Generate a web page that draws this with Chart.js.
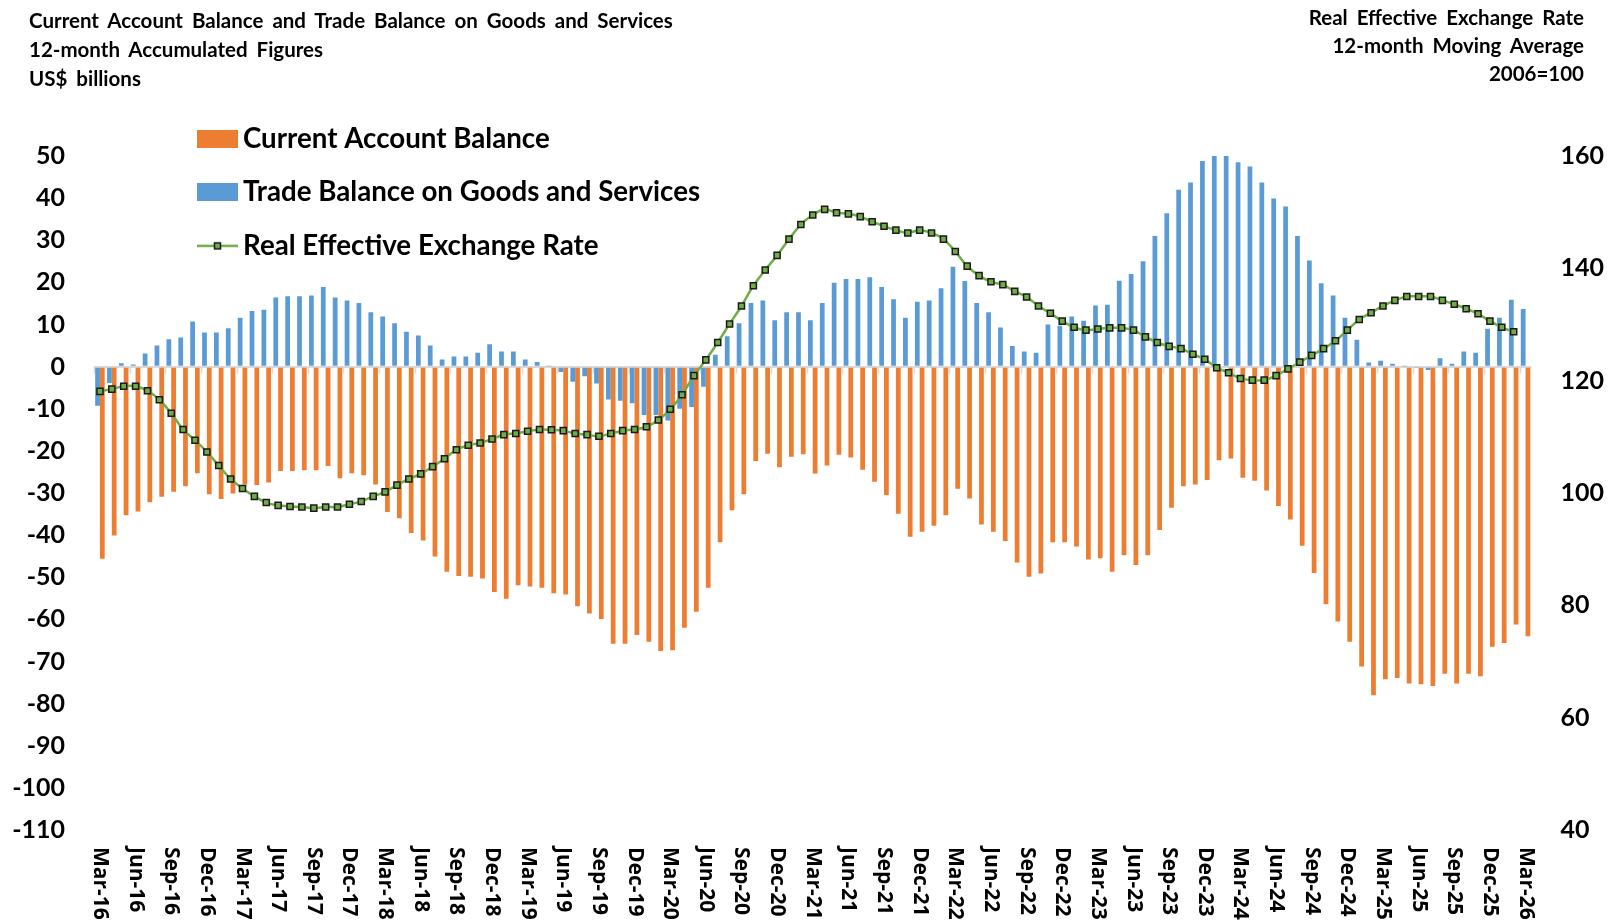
<!DOCTYPE html>
<html><head><meta charset="utf-8">
<script src="https://cdn.jsdelivr.net/npm/chart.js@4.4.1/dist/chart.umd.min.js"></script>
<style>
html,body{margin:0;padding:0;background:#fff;}
#wrap{position:relative;width:1609px;height:924px;overflow:hidden;}
canvas{position:absolute;left:0;top:0;}
.t{position:absolute;font-family:Lato, sans-serif;font-weight:700;color:#000;white-space:nowrap;font-size:20.5px;word-spacing:4px;}
#tl{left:29px;top:6px;line-height:28.75px;}
#tr{right:25px;top:2.5px;line-height:28px;text-align:right;}
</style></head><body>
<div id="wrap"><canvas id="c" width="1609" height="924"></canvas>
<div class="t" id="tl">Current Account Balance and Trade Balance on Goods and Services<br>12-month Accumulated Figures<br>US$ billions</div>
<div class="t" id="tr">Real Effective Exchange Rate<br>12-month Moving Average<br>2006=100</div>
</div>
<script>
// ---- categories (Mar-16 .. Mar-26, monthly) ----
const MONTHS = ['Jan','Feb','Mar','Apr','May','Jun','Jul','Aug','Sep','Oct','Nov','Dec'];
const categories = [];
for (let k = 0; k < 121; k++) {
  const m = (2 + k) % 12, yy = 16 + Math.floor((2 + k) / 12);
  categories.push(MONTHS[m] + '-' + yy);
}

// ---- series (US$ billions, 12-month accumulated) ----
const currentAccount = [
 -45.6,-40.1,-35.3,-34.4,-32.2,-30.9,-29.7,-28.4,-25.3,-30.3,-31.4,-30.1,
 -28.0,-28.1,-27.5,-24.8,-24.8,-24.6,-24.6,-23.6,-26.5,-25.3,-25.8,-28.0,
 -34.5,-36.0,-39.5,-41.3,-45.1,-48.7,-49.7,-49.9,-50.3,-53.5,-55.1,-51.9,
 -52.2,-52.5,-53.8,-54.1,-56.9,-58.6,-59.9,-65.8,-65.8,-63.7,-65.3,-67.5,
 -67.3,-62.0,-58.2,-52.5,-41.7,-34.1,-30.3,-22.4,-20.7,-23.9,-21.4,-20.8,
 -25.4,-23.5,-20.9,-21.6,-24.5,-27.3,-30.5,-34.9,-40.4,-39.2,-37.8,-35.3,
 -29.0,-31.3,-37.5,-39.2,-41.4,-46.5,-49.9,-49.1,-41.7,-41.7,-42.7,-45.8,
 -45.5,-48.7,-44.8,-47.1,-44.8,-38.8,-33.5,-28.4,-28.0,-26.9,-22.2,-21.8,
 -26.4,-27.1,-29.4,-33.1,-36.3,-42.5,-49.0,-56.4,-60.5,-65.3,-71.2,-78.0,
 -74.2,-73.9,-75.2,-75.4,-75.8,-72.9,-75.2,-72.9,-73.5,-66.5,-65.6,-61.2,
 -64.0
];
const tradeBalance = [
 -9.3,-3.9,0.8,0.5,3.1,5.0,6.5,6.9,10.7,8.1,8.1,9.1,
 11.6,13.2,13.5,16.4,16.7,16.7,16.9,18.9,16.4,15.7,15.1,12.9,
 11.9,10.3,8.3,7.4,5.0,1.7,2.4,2.4,3.3,5.3,3.6,3.6,
 1.7,1.1,0.1,-1.3,-3.6,-2.3,-4.0,-7.8,-8.1,-8.7,-11.5,-11.5,
 -12.8,-10.0,-9.6,-4.8,2.8,7.2,10.3,15.1,15.7,11.0,12.9,12.9,
 11.0,15.1,19.9,20.8,20.8,21.2,18.9,16.0,11.6,15.4,15.7,18.6,
 23.7,20.3,15.1,12.9,9.3,4.9,3.6,3.3,10.0,9.7,11.9,10.9,
 14.5,14.7,20.4,22.0,25.0,31.0,36.4,42.0,43.7,48.8,50.3,50.3,
 48.5,47.5,43.7,39.9,38.0,31.0,25.2,19.8,16.9,11.6,6.4,1.0,
 1.4,0.7,0.1,-0.3,-0.8,2.0,0.7,3.6,3.3,9.0,11.6,15.9,
 13.7
];
// ---- Real Effective Exchange Rate (2006=100, 12-month moving average) ----
const reer = [
 118.1,118.5,119.0,119.0,118.2,116.6,114.2,111.3,109.4,107.3,104.9,102.5,
 100.8,99.4,98.3,97.8,97.6,97.5,97.3,97.5,97.5,98.0,98.5,99.4,
 100.2,101.4,102.5,103.4,104.7,106.1,107.7,108.5,108.9,109.6,110.4,110.6,
 111.0,111.3,111.25,111.1,110.6,110.4,110.1,110.6,111.1,111.3,111.8,113.0,
 114.9,117.5,120.9,123.7,126.8,130.1,133.3,136.9,139.7,142.3,145.2,147.8,
 149.5,150.5,149.9,149.7,149.2,148.3,147.5,146.8,146.3,146.8,146.3,145.2,
 143.0,140.4,138.7,137.6,137.1,135.9,134.9,133.3,132.0,130.6,129.5,129.0,
 129.2,129.4,129.4,129.0,127.8,126.8,126.1,125.7,124.7,123.8,122.3,121.4,
 120.4,120.1,120.1,120.9,122.1,123.3,124.5,125.7,127.1,129.0,130.9,132.1,
 133.3,134.3,135.0,135.0,135.0,134.3,133.6,132.8,131.9,130.6,129.5,128.7,
 null
];

// ---- axis tick settings ----
const leftTicks = {min: -110, max: 50, step: 10};
const rightTicks = {min: 40, max: 160, step: 20};
const xLabelEvery = 3;

const COLORS = {ca: '#ED7D31', tb: '#5B9BD5', reer: '#70AD47', zero: '#D9D9D9'};

function iconRect(color) {
  const c = document.createElement('canvas'); c.width = 41; c.height = 18;
  const g = c.getContext('2d'); g.fillStyle = color; g.fillRect(0, 0, 41, 18); return c;
}
function iconLine() {
  const c = document.createElement('canvas'); c.width = 41; c.height = 18;
  const g = c.getContext('2d');
  g.strokeStyle = COLORS.reer; g.lineWidth = 2.5; g.beginPath(); g.moveTo(0, 9); g.lineTo(41, 9); g.stroke();
  g.fillStyle = COLORS.reer; g.fillRect(17.5, 6, 6, 6);
  g.strokeStyle = '#1a1a1a'; g.lineWidth = 1.5; g.strokeRect(17.5, 6, 6, 6);
  return c;
}
const legendIcons = [iconRect(COLORS.ca), iconRect(COLORS.tb), iconLine()];

const tickFont = {family: 'Lato', size: 25, weight: 'bold'};

const xLabelPlugin = {
  id: 'xlabels',
  beforeDatasetsDraw(chart) {
    const {ctx, scales: {x, y}} = chart;
    const y0 = y.getPixelForValue(0);
    const slot = x.getPixelForValue(1) - x.getPixelForValue(0);
    ctx.save();
    ctx.strokeStyle = COLORS.zero; ctx.lineWidth = 1.5;
    for (let i = 0; i <= categories.length; i += xLabelEvery) {
      const bx = Math.round(x.getPixelForValue(i) - slot / 2) + 0.5;
      ctx.beginPath(); ctx.moveTo(bx, y0); ctx.lineTo(bx, y0 + 7); ctx.stroke();
    }
    ctx.restore();
  },
  afterDraw(chart) {
    const {ctx, scales: {x}} = chart;
    ctx.save();
    ctx.font = '700 21px "Open Sans", "DejaVu Sans", sans-serif';
    ctx.fillStyle = '#000';
    ctx.textAlign = 'left'; ctx.textBaseline = 'middle';
    for (let i = 0; i < categories.length; i += xLabelEvery) {
      const px = x.getPixelForValue(i);
      ctx.save(); ctx.translate(px, chart.chartArea.bottom + 17); ctx.rotate(Math.PI / 2);
      ctx.fillText(categories[i], 0, 0); ctx.restore();
    }
    ctx.restore();
  }
};

const legendPlace = {
  id: 'legendPlace',
  afterLayout(chart) {
    const lg = chart.legend; if (!lg) return;
    lg.left = 180.15; lg.top = 99.5; lg.right = lg.left + 700; lg.bottom = lg.top + 400;
    lg.width = 700; lg.height = 400;
  }
};

new Chart(document.getElementById('c').getContext('2d'), {
  type: 'bar',
  data: {
    labels: categories,
    datasets: [
      {type: 'bar', label: 'Current Account Balance', data: currentAccount, backgroundColor: COLORS.ca,
       yAxisID: 'y', order: 2, categoryPercentage: 0.8, barPercentage: 1.0},
      {type: 'bar', label: 'Trade Balance on Goods and Services', data: tradeBalance, backgroundColor: COLORS.tb,
       yAxisID: 'y', order: 1, categoryPercentage: 0.8, barPercentage: 1.0},
      {type: 'line', label: 'Real Effective Exchange Rate', data: reer, yAxisID: 'y1', order: 0,
       borderColor: COLORS.reer, borderWidth: 2.5, tension: 0.35,
       pointStyle: 'rect', pointRadius: 4.3, pointBackgroundColor: COLORS.reer,
       pointBorderColor: '#1a1a1a', pointBorderWidth: 1.5}
    ]
  },
  options: {
    responsive: false, animation: false, devicePixelRatio: 1,
    layout: {padding: {top: 156, left: 0, right: 0, bottom: 0}},
    plugins: {
      tooltip: {enabled: false},
      legend: {
        position: 'chartArea', align: 'start',
        labels: {
          font: {family: 'Lato', size: 27.7, weight: 'bold'}, color: '#000',
          usePointStyle: true, pointStyleWidth: 23.3, padding: 25.7,
          sort: (a, b) => a.datasetIndex - b.datasetIndex,
          generateLabels: (chart) => {
            const items = Chart.defaults.plugins.legend.labels.generateLabels(chart);
            items.forEach(it => { it.pointStyle = legendIcons[it.datasetIndex]; it.lineWidth = 0; });
            return items;
          }
        }
      }
    },
    scales: {
      x: {offset: true, grid: {display: false, drawTicks: false}, border: {display: false},
          ticks: {display: false}, afterFit: s => { s.height = 94; }},
      y: {position: 'left', min: leftTicks.min, max: leftTicks.max,
          ticks: {stepSize: leftTicks.step, font: tickFont, color: '#000', padding: 29},
          grid: {color: c => c.tick && c.tick.value === 0 ? COLORS.zero : 'rgba(0,0,0,0)', lineWidth: 2, drawTicks: false},
          border: {display: false}, afterFit: s => { s.width = 94; }},
      y1: {position: 'right', min: rightTicks.min, max: rightTicks.max,
          ticks: {stepSize: rightTicks.step, font: tickFont, color: '#000', padding: 29},
          grid: {display: false, drawTicks: false}, border: {display: false}, afterFit: s => { s.width = 77.5; }}
    }
  },
  plugins: [xLabelPlugin, legendPlace]
});
</script>
</body></html>
